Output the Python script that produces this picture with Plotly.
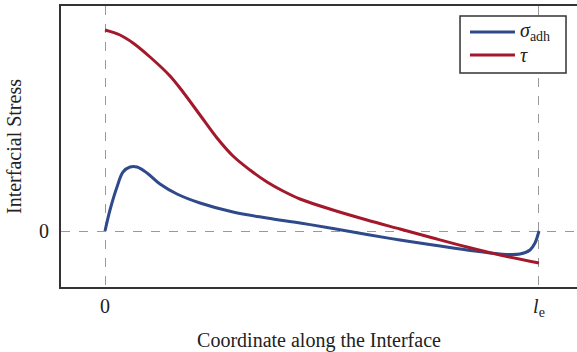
import plotly.graph_objects as go

# Coordinate along the interface (0 .. l_e normalised to 1)
sigma_x = [0.000, 0.0115, 0.0276, 0.0415, 0.0576, 0.0737, 0.0968, 0.1267, 0.1659, 0.2189, 0.2949,
           0.3733, 0.4493, 0.5253, 0.6037, 0.6797, 0.7558, 0.8341, 0.9101, 0.9562, 0.9793, 0.9908, 1.000]
sigma_y = [0, 21, 44, 59, 64, 64, 58, 47, 37, 28, 19,
           13, 8, 2.5, -3.5, -9, -14, -19, -23, -23, -19, -12, 0]

tau_x = [0.000, 0.0346, 0.0645, 0.1037, 0.1498, 0.1797, 0.2189, 0.2581, 0.2949, 0.3341, 0.3733,
         0.4101, 0.4493, 0.5253, 0.6037, 0.6797, 0.7558, 0.8341, 0.9101, 1.000]
tau_y = [201, 196, 188, 174, 155, 139, 116, 93, 75, 61, 49,
         40, 32, 21, 11, 2, -7, -16, -24, -32]

series_names = ["<i>σ</i><sub>adh</sub>", "<i>τ</i>"]
series_colors = ["#2F4A8A", "#A3192B"]

fig = go.Figure()
fig.add_trace(go.Scatter(x=sigma_x, y=sigma_y, mode="lines", name=series_names[0], showlegend=False,
                         line=dict(color=series_colors[0], width=3, shape="spline", smoothing=1.0)))
fig.add_trace(go.Scatter(x=tau_x, y=tau_y, mode="lines", name=series_names[1], showlegend=False,
                         line=dict(color=series_colors[1], width=3, shape="spline", smoothing=1.0)))

font = "Liberation Serif, Times New Roman, serif"

# hand-built legend box (paper coordinates)
fig.add_shape(type="rect", xref="paper", yref="paper", x0=0.7733, x1=0.9787, y0=0.7616, y1=0.9644,
              line=dict(color="#333", width=1.5), fillcolor="white", layer="above")
for yy, name, col in zip([0.9075, 0.8256], series_names, series_colors):
    fig.add_shape(type="line", xref="paper", yref="paper", x0=0.7926, x1=0.8798, y0=yy, y1=yy,
                  line=dict(color=col, width=3), layer="above")
    fig.add_annotation(xref="paper", yref="paper", x=0.8857, y=yy, text=name, showarrow=False,
                       xanchor="left", yanchor="middle",
                       font=dict(family=font, size=20, color="#222"))

fig.update_layout(
    width=577, height=352,
    margin=dict(l=61, r=0, t=6, b=65),
    paper_bgcolor="white", plot_bgcolor="white",
    font=dict(family=font, size=20, color="#222"),
    showlegend=False,
    xaxis=dict(range=[-0.1014, 1.0876], tickvals=[0, 1],
               ticktext=["0", "<i>l</i><sub>e</sub>"],
               showgrid=True, gridcolor="#999", griddash="dash", gridwidth=1,
               zeroline=False, showline=True, linecolor="#333", linewidth=2,
               mirror=True, ticks="", ticklabelstandoff=0,
               title=dict(text="Coordinate along the Interface", standoff=16,
                          font=dict(family=font, size=20, color="#222"))),
    yaxis=dict(range=[-56, 225], tickvals=[0], ticktext=["0"],
               showgrid=True, gridcolor="#999", griddash="dash", gridwidth=1,
               zeroline=False, showline=True, linecolor="#333", linewidth=2,
               mirror=False, ticks="", ticklabelstandoff=6,
               title=dict(text="Interfacial Stress", standoff=12,
                          font=dict(family=font, size=20, color="#222"))),
)

fig.write_html("out.html")
